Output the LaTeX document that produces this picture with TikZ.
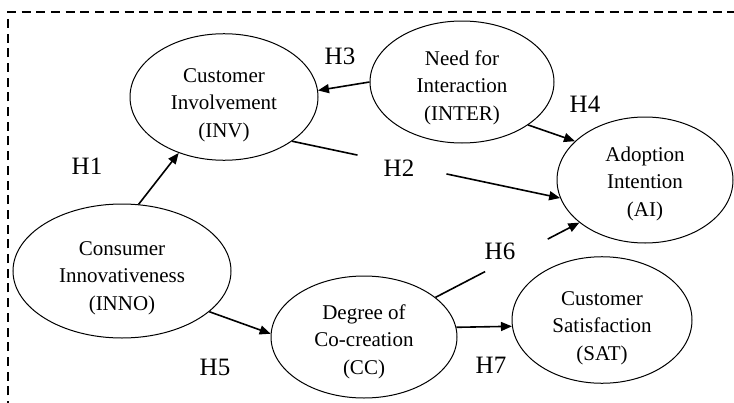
\documentclass[tikz,border=0pt]{standalone}
\usepackage{fontspec}
\setmainfont{Liberation Serif}
\usetikzlibrary{shapes.geometric,arrows.meta}
\newcommand\tpush[1]{\rule{0pt}{#1pt}}
\tikzset{
  ell/.style={draw, ellipse, line width=1pt, inner sep=0pt, align=center,
    font=\fontsize{21}{27.5}\selectfont},
  conn/.style={line width=1.6pt, -{Triangle[length=11pt,width=9pt]}},
  seg/.style={line width=1.6pt},
  hyp/.style={font=\fontsize{25}{28}\selectfont, inner sep=0pt},
  frame/.style={line width=1.8pt, dash pattern=on 9pt off 5.7pt}
}
\begin{document}
\begin{tikzpicture}[x=1pt,y=-1pt]
\useasboundingbox (0,0) rectangle (734,402);
\fill[white] (0,0) rectangle (734,402);
\coordinate (fa) at (8,410);
\coordinate (fb) at (8,12);
\coordinate (fc) at (740,12);
\draw[frame] (fa) -- (fb) -- (fc);

\node[ell, minimum width=188pt, minimum height=118pt] (inv) at (224,97) {\tpush{30}Customer\\Involvement\\(INV)};
\node[ell, minimum width=184pt, minimum height=122pt] (inter) at (462,82) {\tpush{26}Need for\\Interaction\\(INTER)};
\node[ell, minimum width=176pt, minimum height=126pt] (ai) at (645,180) {\tpush{22}Adoption\\Intention\\(AI)};
\node[ell, minimum width=218pt, minimum height=134pt] (inno) at (122,271) {\tpush{28}Consumer\\Innovativeness\\(INNO)};
\node[ell, minimum width=186pt, minimum height=122pt] (cc) at (364,337) {\tpush{24}Degree of\\Co-creation\\(CC)};
\node[ell, minimum width=180pt, minimum height=116pt] (sat) at (602,320) {\tpush{30}Customer\\Satisfaction\\(SAT)};

\draw[conn] (inno.76) -- (inv.231);
\draw[conn] (inter.180) -- (inv.4);
\draw[conn] (inter.-33) -- (ai.151);
\draw[conn] (inno.-25.5) -- (cc.178);
\draw[conn] (cc.6) -- (sat.184.4);

% H2: connector broken where its label sits
\path (inv.-33) -- (ai.192.6) coordinate[pos=0.244] (h2a) coordinate[pos=0.576] (h2b);
\draw[seg] (inv.-33) -- (h2a);
\draw[conn] (h2b) -- (ai.192.6);

% H6: connector broken where its label sits
\path (cc.29.3) -- (ai.213.1) coordinate[pos=0.345] (h6a) coordinate[pos=0.78] (h6b);
\draw[seg] (cc.29.3) -- (h6a);
\draw[conn] (h6b) -- (ai.213.1);

\node[hyp] (h1) at (87,166) {H1};
\node[hyp] (h3) at (340,56) {H3};
\node[hyp] (h4) at (585,104) {H4};
\node[hyp] (h2) at (399,168) {H2};
\node[hyp] (h6) at (500,251) {H6};
\node[hyp] (h5) at (215,367) {H5};
\node[hyp] (h7) at (491,365) {H7};
\end{tikzpicture}
\end{document}
